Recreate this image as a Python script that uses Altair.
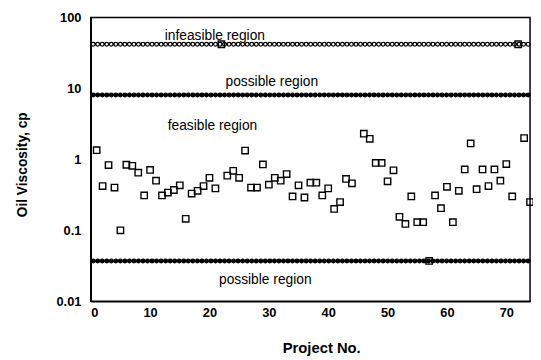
import altair as alt
import pandas as pd

# Project numbers and oil viscosities (cp)
projects = [1, 2, 3, 4, 5, 6, 7, 8, 9, 10,
            11, 12, 13, 14, 15, 16, 17, 18, 19, 20,
            21, 22, 23, 24, 25, 26, 27, 28, 29, 30,
            31, 32, 33, 34, 35, 36, 37, 38, 39, 40,
            41, 42, 43, 44, 46, 47, 48, 49, 50,
            51, 52, 53, 54, 55, 56, 57, 58, 59, 60,
            61, 62, 63, 64, 65, 66, 67, 68, 69, 70,
            71, 72, 73, 74]
viscosity = [1.35, 0.42, 0.83, 0.40, 0.10, 0.84, 0.81, 0.65, 0.31, 0.71,
             0.50, 0.31, 0.34, 0.37, 0.43, 0.145, 0.33, 0.36, 0.42, 0.55,
             0.39, 42, 0.59, 0.69, 0.55, 1.33, 0.40, 0.40, 0.85, 0.44,
             0.55, 0.50, 0.62, 0.30, 0.43, 0.29, 0.47, 0.47, 0.31, 0.39,
             0.20, 0.25, 0.53, 0.46, 2.3, 1.95, 0.89, 0.89, 0.49,
             0.70, 0.155, 0.123, 0.30, 0.13, 0.13, 0.037, 0.31, 0.205, 0.41,
             0.13, 0.36, 0.72, 1.68, 0.38, 0.72, 0.42, 0.72, 0.50, 0.86,
             0.30, 42, 2.0, 0.25]

# Boundary rows
boundary_values = [42, 8.1, 0.037]
boundary_filled = [False, True, True]
boundary_x_start = 0.4
boundary_x_end = 73.8

# Region labels
label_text = ["infeasible region", "possible region", "feasible region", "possible region"]
label_x = [20.9, 30.5, 20.5, 29.4]
label_y = [54.5, 12.5, 2.97, 0.0196]

x_ticks = [0, 10, 20, 30, 40, 50, 60, 70]
y_ticks = [0.01, 0.1, 1, 10, 100]

pts = pd.DataFrame({"x": projects, "y": viscosity})
bnd = pd.DataFrame({"x": [boundary_x_start] * 3, "x2": [boundary_x_end] * 3,
                    "y": boundary_values, "filled": boundary_filled})
lab = pd.DataFrame({"x": label_x, "y": label_y, "t": label_text})

FONT = "Liberation Sans"
xs = alt.Scale(domain=[0, 74], nice=False, zero=False)
ys = alt.Scale(type="log", domain=[0.01, 100], nice=False)
xaxis = alt.Axis(title="Project No.", values=x_ticks, grid=False, ticks=False,
                 labelPadding=6, labelFont=FONT, labelFontSize=13, labelFontWeight="bold",
                 labelColor="black", titleFont=FONT, titleFontSize=15, titleFontWeight="bold",
                 titleColor="black", titleX=234, titleY=47, titleBaseline="middle",
                 domainColor="black", domainWidth=1.5)
yaxis = alt.Axis(title="Oil Viscosity, cp", values=y_ticks, format="~g", grid=False, ticks=False,
                 labelPadding=10, labelFont=FONT, labelFontSize=13, labelFontWeight="bold",
                 labelColor="black", titleFont=FONT, titleFontSize=14, titleFontWeight="bold",
                 titleColor="black", titleX=-69, titleY=149, titleBaseline="middle",
                 titleAngle=-90, domainColor="black", domainWidth=1.5)

X = alt.X("x:Q", scale=xs, axis=xaxis)
Y = alt.Y("y:Q", scale=ys, axis=yaxis)

outer = alt.Chart(bnd).mark_rule(color="black", strokeWidth=5, strokeCap="round",
                                 strokeDash=[0.1, 4.5]).encode(x=X, x2="x2:Q", y=Y)
inner = alt.Chart(bnd).transform_filter("!datum.filled").mark_rule(
    color="white", strokeWidth=2.4, strokeCap="round", strokeDash=[0.1, 4.5]
).encode(x=X, x2="x2:Q", y=Y)

squares = alt.Chart(pts).mark_point(shape="square", filled=False, size=42,
                                    strokeWidth=1.4, color="black", opacity=1).encode(x=X, y=Y)

texts = alt.Chart(lab).mark_text(font=FONT, fontSize=14, color="black",
                                 align="center", baseline="middle").encode(x=X, y=Y, text="t:N")

chart = alt.layer(outer, inner, squares, texts).properties(
    width=446, height=288,
    autosize=alt.AutoSizeParams(type="none"),
    padding={"left": 84, "top": 7, "right": 3, "bottom": 57},
    background="white",
).configure_view(stroke="black", strokeWidth=1.5)

chart.save("out.html", embed_options={"renderer": "svg", "actions": False})
